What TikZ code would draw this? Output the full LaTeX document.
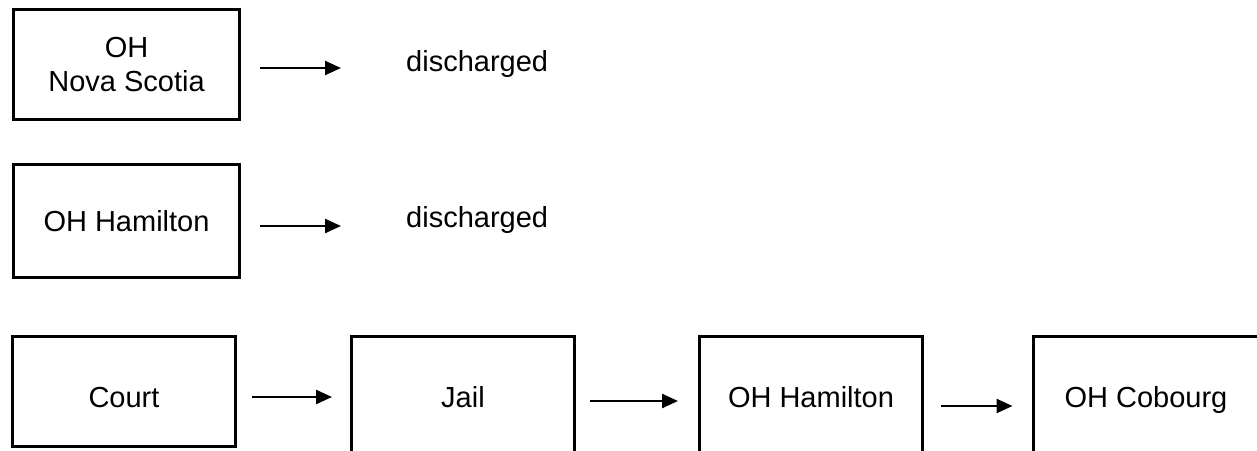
\documentclass[tikz,border=0pt]{standalone}
\usepackage{fontspec}
\setmainfont{Liberation Sans}
\usetikzlibrary{arrows.meta,calc}
\begin{document}
\begin{tikzpicture}[x=1pt,y=1pt,
  box/.style={draw=black,line width=3pt,rectangle,inner sep=0pt,
    font=\fontsize{29}{34}\selectfont,align=center},
  rowbox/.style={box,text height=21pt,text depth=0pt},
  lbl/.style={inner sep=0pt,font=\fontsize{29}{34}\selectfont},
  arr/.style={line width=2.4pt,-{Triangle[length=16pt,width=14pt]}}]
  \useasboundingbox (0,0) rectangle (1257,450);
  \fill[white] (0,0) rectangle (1257,450);
  \clip (0,0) rectangle (1257,450);

  % upper two rows
  \node[box,minimum width=226pt,minimum height=110pt] (nova) at (126.5,385.5) {OH\\Nova Scotia};
  \node[lbl,anchor=west] (dis1) at (406,386) {discharged};
  \node[box,minimum width=226pt,minimum height=113pt] (ham1) at (126.5,229) {OH Hamilton};
  \node[lbl,anchor=west] (dis2) at (406,230) {discharged};

  \draw[arr] ($(nova.east)+(19,-3.5)$) -- ($(dis1.west)+(-65,-4)$);
  \draw[arr] ($(ham1.east)+(19,-5)$) -- ($(dis2.west)+(-65,-6)$);

  % bottom row
  \node[rowbox,minimum width=223pt,minimum height=110pt] (court) at (124,58.5) {\raisebox{-5.5pt}{Court}};
  \node[rowbox,minimum width=223pt,minimum height=122pt] (jail) at (463,53) {Jail};
  \node[rowbox,minimum width=223pt,minimum height=122pt] (ham2) at (811,53) {OH Hamilton};
  \node[rowbox,minimum width=226pt,minimum height=122pt] (cob) at (1146,53) {OH Cobourg};

  \draw[arr] ($(court.east)+(15,-5.5)$) -- ($(jail.west)+(-18,0)$);
  \draw[arr] ($(jail.east)+(14,-4)$) -- ($(ham2.west)+(-20,-4)$);
  \draw[arr] ($(ham2.east)+(17,-9)$) -- ($(cob.west)+(-19,-9)$);
\end{tikzpicture}
\end{document}
